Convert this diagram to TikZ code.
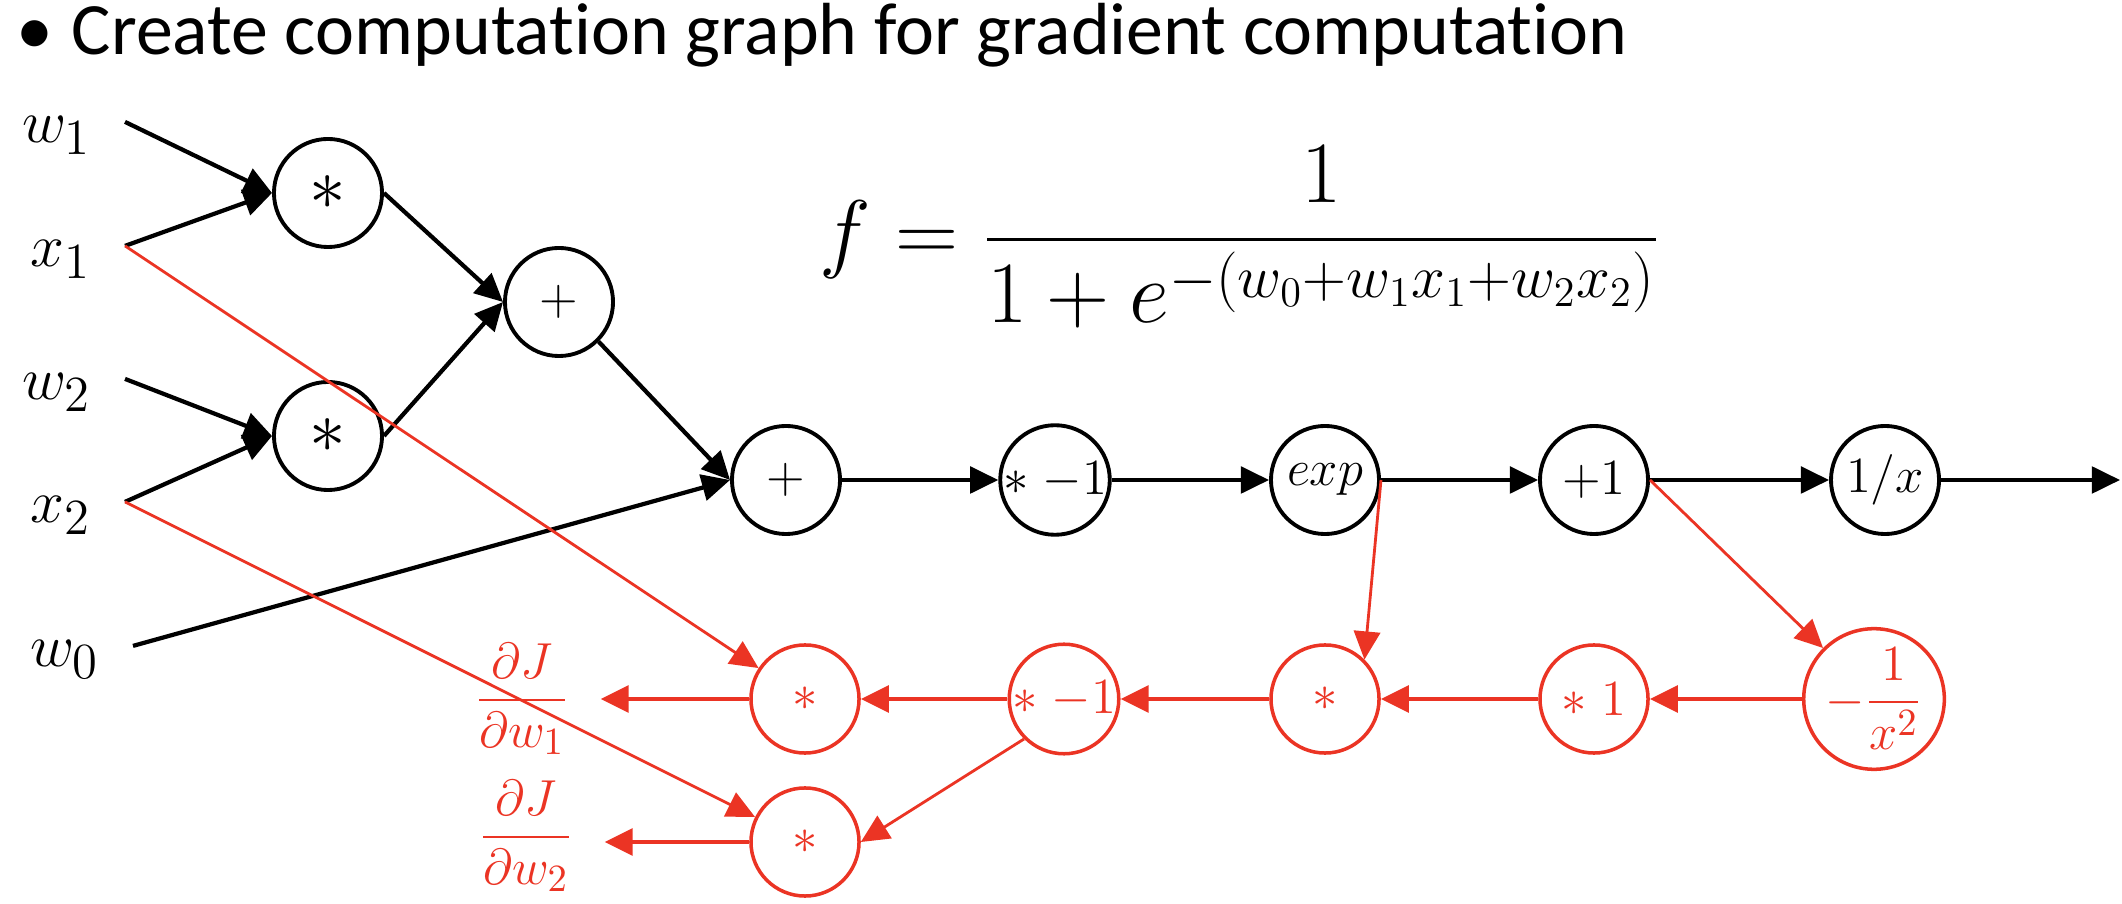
\documentclass[tikz,border=0pt]{standalone}
\usepackage{fontspec}
\usepackage{amsmath}
\usepackage{xcolor}
\usetikzlibrary{arrows.meta}
\newfontfamily\calibri[Ligatures=NoCommon]{Carlito}
\definecolor{gradred}{RGB}{235,52,36}

\begin{document}
\begin{tikzpicture}[x=0.01cm, y=-0.01cm,
  op/.style={circle, draw=black, line width=1.1pt, minimum size=1.08cm, inner sep=0pt,
             font=\fontsize{14}{16}\selectfont},
  gop/.style={op, draw=gradred, text=gradred, line width=1pt},
  inp/.style={anchor=base east, inner xsep=9.4pt, font=\fontsize{19}{22}\selectfont},
  gl/.style={text=gradred, inner xsep=8.8pt, font=\fontsize{15}{17}\selectfont},
  fl/.style={-{Triangle[length=8pt, width=7.5pt]}, line width=1.2pt},
  gfl/.style={-{Triangle[length=8pt, width=7.5pt]}, gradred, line width=1.4pt},
  gdl/.style={-{Triangle[length=8pt, width=7.5pt]}, gradred, line width=0.8pt}]
\useasboundingbox (0,0) rectangle (2122,904);
\node[anchor=base west, inner sep=0pt, font=\calibri\fontsize{21}{24}\selectfont] (title) at (16,55)
  {\textbullet\hspace{0.25em}Create computation graph for gradient computation};
\node[font=\fontsize{24.5}{28}\selectfont] (fx) at (1240,237)
  {$f=\dfrac{1}{1+e^{-(w_0+w_1x_1+w_2x_2)}}$};
\node[inp] (w1) at (125,143) {$w_1$};
\node[inp] (x1) at (125,267) {$x_1$};
\node[inp] (w2) at (125,400) {$w_2$};
\node[inp] (x2) at (125,523) {$x_2$};
\node[inp] (w0) at (133,667) {$w_0$};
\node[op, font=\fontsize{20}{22}\selectfont] (mulA) at (328,193) {$*$};
\node[op, font=\fontsize{20}{22}\selectfont] (mulB) at (328,436) {$*$};
\node[op] (addA) at (559,302) {$+$};
\node[op] (addB) at (786,480) {$+$};
\node[op] (neg) at (1055,480) {$*\;{-1}$};
\node[op] (expo) at (1325,480) {$exp$};
\node[op] (inc) at (1594,480) {$+1$};
\node[op] (inv) at (1885,480) {$1/x$};
\coordinate (out) at (2120,480);
\node[gop] (gmulA) at (805,699) {$*$};
\node[gop] (gmulB) at (805,842) {$*$};
\node[gop] (gneg) at (1064,699) {$*\;{-1}$};
\node[gop] (gmul) at (1325,699) {$*$};
\node[gop] (gone) at (1594,699) {$*\;1$};
\node[gop, font=\fontsize{15}{17}\selectfont] (ginv) at (1874,699) {$-\dfrac{1}{x^2}$};
\node[gl] (dwA) at (522,699) {$\dfrac{\partial J}{\partial w_1}$};
\node[gl] (dwB) at (526,836) {$\dfrac{\partial J}{\partial w_2}$};
\draw[fl] ([yshift=6pt]w1.base east) -- (mulA.west);
\draw[fl] ([yshift=6pt]x1.base east) -- (mulA.west);
\draw[fl] ([yshift=6pt]w2.base east) -- (mulB.west);
\draw[fl] ([yshift=6pt]x2.base east) -- (mulB.west);
\draw[fl] (mulA.east) -- (addA.west);
\draw[fl] (mulB.east) -- (addA.west);
\draw[fl] (addA.south east) -- (addB.west);
\draw[fl] ([yshift=6pt]w0.base east) -- (addB.west);
\draw[fl] (addB) -- (neg);
\draw[fl] (neg) -- (expo);
\draw[fl] (expo) -- (inc);
\draw[fl] (inc) -- (inv);
\draw[fl] (inv) -- (out);
\draw[gdl] ([yshift=6pt]x1.base east) -- (gmulA);
\draw[gdl] ([yshift=6pt]x2.base east) -- (gmulB);
\draw[gdl] (expo.east) -- (gmul.north east);
\draw[gdl] (inc.east) -- (ginv.north west);
\draw[gdl] (gneg.south west) -- (gmulB.east);
\draw[gfl] (ginv) -- (gone);
\draw[gfl] (gone) -- (gmul);
\draw[gfl] (gmul) -- (gneg);
\draw[gfl] (gneg) -- (gmulA);
\draw[gfl] (gmulA.west) -- (gmulA.west -| dwA.east);
\draw[gfl] (gmulB.west) -- (gmulB.west -| dwB.east);
\end{tikzpicture}
\end{document}
